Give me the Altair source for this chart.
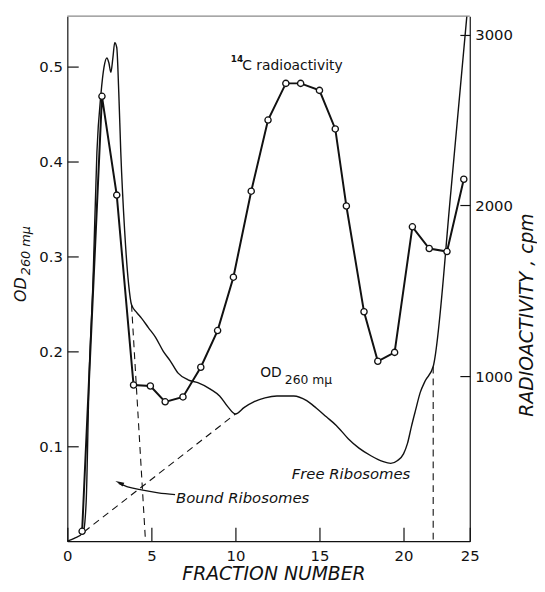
import altair as alt
import pandas as pd

FONT = "DejaVu Sans"
INK = "#111111"

# ---- data ----
# 14C radioactivity (cpm), open circles
rad_fraction = [0.88, 2.06, 2.94, 3.94, 4.94, 5.82, 6.88, 7.94, 8.94, 9.88, 10.94, 11.94,
                13.0, 13.88, 15.0, 15.94, 16.6, 17.65, 18.47, 19.47, 20.67, 21.94, 23.28, 24.55]
rad_cpm = [90, 2640, 2061, 948, 942, 849, 878, 1052, 1267, 1580, 2084, 2501,
           2716, 2716, 2675, 2449, 1997, 1377, 1087, 1139, 1875, 1748, 1730, 2154]

# OD 260 mu trace
od_fraction = [0.0, 0.41, 0.94, 1.12, 1.29, 1.53, 1.76, 2.0, 2.18, 2.35, 2.47, 2.59, 2.71, 2.82,
               2.94, 3.06, 3.18, 3.41, 3.65, 3.82, 4.12, 4.41, 4.82, 5.24, 5.71, 6.12, 6.59,
               7.18, 7.76, 8.53, 9.06, 9.53, 10.0, 10.53, 11.12, 11.76, 12.47, 13.47, 14.24,
               14.82, 15.41, 16.0, 16.71, 17.35, 18.06, 18.76, 19.24, 19.65, 20.0, 20.3, 20.6,
               20.9, 21.27, 21.64, 22.24, 23.58, 24.78]
od_value = [0.0, 0.003, 0.009, 0.041, 0.168, 0.275, 0.410, 0.471, 0.499, 0.509, 0.504, 0.494,
            0.509, 0.525, 0.520, 0.473, 0.410, 0.327, 0.270, 0.249, 0.241, 0.235, 0.225, 0.215,
            0.200, 0.190, 0.177, 0.170, 0.167, 0.160, 0.153, 0.142, 0.134, 0.141, 0.147, 0.151,
            0.153, 0.153, 0.148, 0.140, 0.131, 0.122, 0.108, 0.098, 0.090, 0.084, 0.082, 0.085,
            0.092, 0.103, 0.121, 0.1375, 0.157, 0.169, 0.184, 0.369, 0.553]

# dashed construction lines
dash_seg = ["bound", "bound", "base", "base", "free", "free"]
dash_fraction = [3.82, 4.65, 1.0, 10.0, 22.24, 22.24]
dash_value = [0.249, 0.0, 0.01, 0.134, 0.184, 0.0]

# arrow to "Bound Ribosomes"
arrow_fraction = [3.06, 3.65, 4.41, 5.41, 6.41]
arrow_value = [0.061, 0.057, 0.054, 0.051, 0.049]
arrowhead_fraction = [3.1]
arrowhead_value = [0.0615]

# axis ticks (drawn pointing inward)
x_ticks = [0, 5, 10, 15, 20, 25]
od_ticks = [0.1, 0.2, 0.3, 0.4, 0.5]
cpm_ticks = [1000, 2000, 3000]

# annotations
ann_text = ["C radioactivity", "OD"]
ann_fraction = [10.41, 11.47]
ann_value = [0.501, 0.177]
sup_text = ["14"]
sup_fraction = [9.72]
sup_value = [0.508]
sub_text = ["260 m\u03bc"]
sub_fraction = [12.94]
sub_value = [0.170]
ital_text = ["Free Ribosomes", "Bound Ribosomes"]
ital_fraction = [13.35, 6.47]
ital_value = [0.071, 0.045]

W, H = 407, 531

rad_df = pd.DataFrame({"f": rad_fraction, "v": rad_cpm})
od_df = pd.DataFrame({"f": od_fraction, "v": od_value})
dash_df = pd.DataFrame({"seg": dash_seg, "f": dash_fraction, "v": dash_value})
arrow_df = pd.DataFrame({"f": arrow_fraction, "v": arrow_value})
head_df = pd.DataFrame({"f": arrowhead_fraction, "v": arrowhead_value})
ann_df = pd.DataFrame({"f": ann_fraction, "v": ann_value, "t": ann_text})
sup_df = pd.DataFrame({"f": sup_fraction, "v": sup_value, "t": sup_text})
sub_df = pd.DataFrame({"f": sub_fraction, "v": sub_value, "t": sub_text})
ital_df = pd.DataFrame({"f": ital_fraction, "v": ital_value, "t": ital_text})
one = pd.DataFrame({"a": [0]})

xscale = alt.Scale(domain=[0, 20, 25], range=[0, 340, 407], zero=False, nice=False)
od_scale = alt.Scale(domain=[0, 0.553], zero=False, nice=False)
cpm_scale = alt.Scale(domain=[32, 3110], zero=False, nice=False)

# inward ticks: a negative tick size (given as an expression), label padding compensates
x_axis = alt.Axis(values=x_ticks, format="d", title=None, ticks=True,
                  tickSize=alt.ExprRef(expr="-14"), tickColor=INK, tickWidth=1.2, grid=False,
                  labelPadding=21, labelFlush=False, labelOverlap=False,
                  domainColor=INK, domainWidth=1.2)
od_axis = alt.Axis(orient="left", values=od_ticks, format=".1f", title=None, ticks=True,
                   tickSize=alt.ExprRef(expr="-11"), tickColor=INK, tickWidth=1.2,
                   grid=False, labelPadding=16, domainColor=INK,
                   domainWidth=1.2, labelOverlap=False)
cpm_axis = alt.Axis(orient="right", values=cpm_ticks, format="d", title=None, ticks=True,
                    tickSize=alt.ExprRef(expr="-10"), tickColor=INK, tickWidth=1.2,
                    grid=False, labelPadding=15, domainColor=INK,
                    domainWidth=1.2, labelOverlap=False)

X = alt.X("f:Q", scale=xscale, axis=x_axis, title=None)
Y_od = alt.Y("v:Q", scale=od_scale, axis=od_axis, title=None)
Y_cpm = alt.Y("v:Q", scale=cpm_scale, axis=cpm_axis, title=None)

od_line = alt.Chart(od_df).mark_line(color=INK, strokeWidth=1.4, interpolate="monotone").encode(
    x=X, y=Y_od)
dashes = alt.Chart(dash_df).mark_line(color=INK, strokeWidth=1.1, strokeDash=[7, 5]).encode(
    x=X, y=Y_od, detail="seg:N")
arrow = alt.Chart(arrow_df).mark_line(color=INK, strokeWidth=1.3, interpolate="monotone").encode(
    x=X, y=Y_od)
head = alt.Chart(head_df).mark_point(shape="M0,-1L0.45,1L-0.45,1Z", filled=True, color=INK,
                                     size=80, angle=294, opacity=1).encode(x=X, y=Y_od)
ann = alt.Chart(ann_df).mark_text(font=FONT, fontSize=14, align="left", baseline="middle",
                                  color=INK).encode(x=X, y=Y_od, text="t:N")
sup = alt.Chart(sup_df).mark_text(font=FONT, fontSize=9, fontWeight="bold", align="left",
                                  baseline="middle", color=INK).encode(x=X, y=Y_od, text="t:N")
sub = alt.Chart(sub_df).mark_text(font=FONT, fontSize=12.5, align="left", baseline="middle",
                                  color=INK).encode(x=X, y=Y_od, text="t:N")
ital = alt.Chart(ital_df).mark_text(font=FONT, fontSize=15, fontStyle="italic", align="left",
                                    baseline="middle", color=INK).encode(x=X, y=Y_od, text="t:N")
top = alt.Chart(one).mark_rule(color="#8a8a8a", strokeWidth=1.2).encode(
    x=alt.value(0), x2=alt.value(W), y=alt.value(0))
t_od1 = alt.Chart(one).mark_text(font=FONT, fontSize=16, fontStyle="italic", angle=270,
                                 align="left", baseline="middle", color=INK).encode(
    x=alt.value(-47), y=alt.value(289), text=alt.value("OD"))
t_od2 = alt.Chart(one).mark_text(font=FONT, fontSize=13, fontStyle="italic", angle=270,
                                 align="left", baseline="middle", color=INK).encode(
    x=alt.value(-42), y=alt.value(262), text=alt.value("260 m\u03bc"))
t_x = alt.Chart(one).mark_text(font=FONT, fontSize=19, fontStyle="italic", align="center",
                               baseline="middle", color=INK).encode(
    x=alt.value(209), y=alt.value(564), text=alt.value("FRACTION NUMBER"))
t_r = alt.Chart(one).mark_text(font=FONT, fontSize=19, fontStyle="italic", angle=270,
                               align="left", baseline="middle", color=INK).encode(
    x=alt.value(465), y=alt.value(405), text=alt.value("RADIOACTIVITY , cpm"))

od_layer = alt.layer(od_line, dashes, arrow, head, ann, sup, sub, ital, top,
                     t_od1, t_od2, t_x, t_r)

rad_line = alt.Chart(rad_df).mark_line(color=INK, strokeWidth=2).encode(x=X, y=Y_cpm)
rad_pts = alt.Chart(rad_df).mark_point(shape="circle", filled=True, fill="white", stroke=INK,
                                       strokeWidth=1.3, size=40, opacity=1).encode(x=X, y=Y_cpm)

cpm_layer = alt.layer(rad_line, rad_pts)

chart = alt.layer(od_layer, cpm_layer).resolve_scale(y="independent").properties(
    width=W, height=H,
    autosize=alt.AutoSizeParams(type="none"),
    padding={"left": 60, "top": 5, "right": 68, "bottom": 40},
).configure_view(stroke=None).configure_axis(
    labelFont=FONT, labelFontSize=15, labelColor=INK
)

chart.save("out.html", embed_options={"renderer": "svg", "actions": False})
